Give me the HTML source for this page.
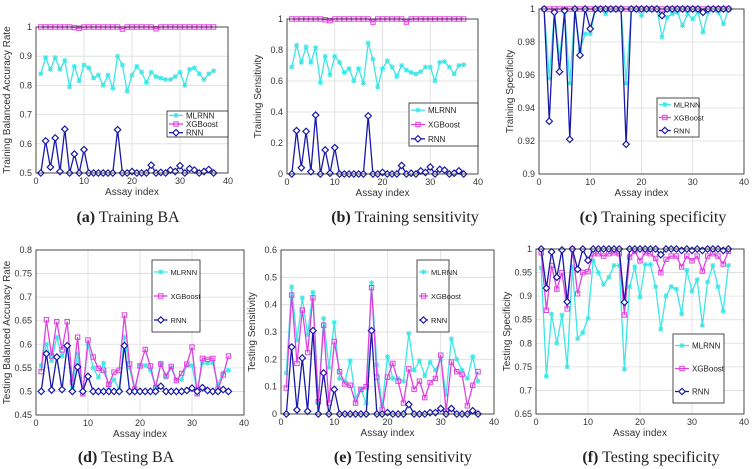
<!DOCTYPE html>
<html><head><meta charset="utf-8"><style>
body{margin:0;background:#fff;width:753px;height:469px;overflow:hidden}
svg{display:block}
text{font-family:"Liberation Sans",sans-serif}
.cap{font-family:"Liberation Serif",serif;font-size:16px;fill:#222}
</style></head><body>
<svg id="fig" width="753" height="469" xmlns="http://www.w3.org/2000/svg"></svg>
<script>
const xTicks=[0,10,20,30,40];
const seriesNames=["MLRNN","XGBoost","RNN"];
// panel a
const aML=[0.84,0.895,0.855,0.895,0.855,0.885,0.795,0.865,0.815,0.87,0.86,0.825,0.835,0.80,0.835,0.79,0.9,0.87,0.78,0.835,0.865,0.845,0.81,0.845,0.83,0.825,0.82,0.82,0.83,0.845,0.80,0.855,0.86,0.84,0.82,0.84,0.85];
const aXG=[1,1,1,1,1,1,1,0.998,0.996,1,1,1,1,1,1,1,1,0.993,1,1,1,1,1,1,0.994,1,1,1,1,1,1,1,1,1,1,1,1];
const aRN=[0.5,0.61,0.52,0.62,0.505,0.65,0.5,0.565,0.5,0.58,0.5,0.5,0.5,0.5,0.5,0.5,0.648,0.5,0.5,0.505,0.5,0.5,0.5,0.527,0.5,0.502,0.5,0.51,0.505,0.525,0.5,0.515,0.51,0.5,0.505,0.512,0.5];
const aTicks=["0.5","0.6","0.7","0.8","0.9","1"];
// panel b
const bML=[0.69,0.83,0.72,0.82,0.72,0.815,0.59,0.76,0.64,0.76,0.72,0.655,0.68,0.6,0.68,0.585,0.845,0.74,0.56,0.68,0.73,0.69,0.63,0.70,0.67,0.655,0.645,0.66,0.69,0.69,0.60,0.72,0.725,0.69,0.645,0.70,0.705];
const bXG=[1,1,1,1,1,1,1,0.995,0.99,1,1,1,1,1,1,1,1,0.98,1,1,1,1,1,1,0.98,1,1,1,1,1,1,1,1,1,1,1,1];
const bRN=[0,0.28,0.04,0.275,0.015,0.38,0,0.155,0.005,0.17,0,0,0,0,0,0,0.375,0,0,0.01,0,0,0,0.055,0,0.005,0,0.02,0.01,0.045,0,0.03,0.025,0,0.005,0.02,0];
const bTicks=["0","0.2","0.4","0.6","0.8","1"];
// panel c
const cML=[1,0.958,0.998,0.97,0.998,0.955,1,0.975,0.985,0.985,1,1,0.997,1,1,1,0.955,1,1,0.996,1,1,1,0.983,0.995,0.997,0.998,0.99,0.997,0.994,0.998,0.986,0.998,1,0.998,0.991,1];
const cXG=[1,1,1,1,1,1,1,1,1,1,1,1,1,1,1,1,1,1,1,1,1,1,1,1,1,1,1,1,1,1,1,1,1,1,1,1,1];
const cRN=[1,0.932,0.998,0.962,0.999,0.921,1,0.972,1,0.988,1,1,1,1,1,1,0.918,1,1,1,1,1,1,0.996,1,1,1,1,1,1,1,0.998,1,1,1,1,1];
const cTicks=["0.9","0.92","0.94","0.96","0.98","1"];
// panel d
const dML=[0.555,0.60,0.565,0.615,0.575,0.595,0.51,0.58,0.50,0.60,0.55,0.53,0.56,0.51,0.525,0.505,0.615,0.55,0.50,0.555,0.555,0.545,0.51,0.56,0.53,0.55,0.525,0.525,0.555,0.555,0.50,0.56,0.56,0.56,0.515,0.54,0.545];
const dXG=[0.542,0.652,0.575,0.648,0.588,0.648,0.52,0.615,0.495,0.609,0.573,0.549,0.545,0.515,0.541,0.545,0.662,0.558,0.505,0.554,0.589,0.554,0.508,0.558,0.533,0.553,0.523,0.538,0.558,0.594,0.495,0.57,0.568,0.57,0.505,0.535,0.575];
const dRN=[0.5,0.58,0.503,0.573,0.504,0.597,0.5,0.552,0.5,0.532,0.5,0.5,0.5,0.5,0.5,0.5,0.597,0.5,0.5,0.5,0.5,0.5,0.5,0.511,0.5,0.5,0.5,0.5,0.502,0.507,0.5,0.508,0.502,0.5,0.5,0.504,0.5];
const dTicks=["0.45","0.5","0.55","0.6","0.65","0.7","0.75","0.8"];
// panel e
const eML=[0.15,0.465,0.27,0.425,0.29,0.445,0.04,0.35,0.17,0.335,0.13,0.12,0.195,0.06,0.09,0.04,0.48,0.18,0.03,0.21,0.13,0.13,0.12,0.295,0.16,0.195,0.14,0.19,0.16,0.2,0.07,0.275,0.2,0.16,0.13,0.21,0.12];
const eXG=[0.095,0.435,0.185,0.38,0.225,0.425,0.045,0.325,0.04,0.265,0.155,0.11,0.105,0.04,0.09,0.1,0.462,0.135,0.015,0.135,0.185,0.12,0.04,0.165,0.09,0.12,0.06,0.115,0.13,0.215,0.01,0.19,0.155,0.145,0.03,0.105,0.155];
const eRN=[0,0.245,0.015,0.205,0.01,0.305,0,0.15,0,0.09,0,0,0,0,0,0,0.305,0,0,0.005,0,0,0,0.035,0,0,0,0.005,0.005,0.02,0,0.02,0,0,0,0.012,0];
const eTicks=["0","0.1","0.2","0.3","0.4","0.5","0.6"];
// panel f
const fML=[0.96,0.73,0.862,0.80,0.86,0.75,0.962,0.81,0.823,0.853,0.975,0.95,0.925,0.94,0.965,0.965,0.745,0.92,0.962,0.898,0.967,0.967,0.92,0.83,0.90,0.92,0.915,0.862,0.955,0.91,0.935,0.838,0.93,0.965,0.92,0.868,0.965];
const fXG=[0.992,0.87,0.965,0.915,0.95,0.873,1,0.905,0.95,0.952,0.99,0.99,0.985,0.99,0.992,0.99,0.86,0.983,0.995,0.975,0.992,0.99,0.98,0.95,0.978,0.985,0.985,0.962,0.985,0.975,0.985,0.953,0.985,0.99,0.985,0.968,0.995];
const fRN=[1,0.917,0.994,0.94,0.998,0.888,1,0.957,1,0.976,1,1,1,1,1,1,0.887,1,1,1,1,1,1,0.988,1,1,1,0.997,1,0.997,1,0.997,1,1,1,0.997,1];
const fTicks=["0.65","0.7","0.75","0.8","0.85","0.9","0.95","1"];

const NS="http://www.w3.org/2000/svg";
const svg=document.getElementById('fig');
const COL=["#3ee6e6","#e040e0","#1a1aa8"];
function mk(tag,attrs,parent){const e=document.createElementNS(NS,tag);for(const k in attrs)e.setAttribute(k,attrs[k]);(parent||svg).appendChild(e);return e;}
function marker(g,type,x,y,c){
  if(type===0){mk('path',{d:`M${x-2.5} ${y}H${x+2.5}M${x} ${y-2.5}V${y+2.5}M${x-2} ${y-2}L${x+2} ${y+2}M${x-2} ${y+2}L${x+2} ${y-2}`,stroke:c,'stroke-width':1,fill:'none'},g);}
  else if(type===1){mk('rect',{x:x-2.2,y:y-2.2,width:4.4,height:4.4,fill:'none',stroke:c,'stroke-width':1},g);}
  else {mk('path',{d:`M${x} ${y-3.2}L${x+3.2} ${y}L${x} ${y+3.2}L${x-3.2} ${y}Z`,fill:'#fff',stroke:c,'stroke-width':1.2},g);}
}
const panels=[
 {id:'a',L:36,R:228,T:27,B:173,y0:0.5,y1:1,ticks:aTicks,data:[aML,aXG,aRN],yl:'Training Balanced Accuracy Rate',cap:['(a)',' Training BA'],cx:128,cy:222,leg:[167,111,61,26]},
 {id:'b',L:287,R:478,T:19,B:174,y0:0,y1:1,ticks:bTicks,data:[bML,bXG,bRN],yl:'Training Sensitivity',cap:['(b)',' Training sensitivity'],cx:405,cy:222,leg:[409,103,69,43]},
 {id:'c',L:539,R:744,T:9,B:174,y0:0.9,y1:1,ticks:cTicks,data:[cML,cXG,cRN],yl:'Training Specificity',cap:['(c)',' Training specificity'],cx:653,cy:222,leg:[657,98,42,39]},
 {id:'d',L:36,R:244,T:250,B:415,y0:0.45,y1:0.8,ticks:dTicks,data:[dML,dXG,dRN],yl:'Testing Balanced Accuracy Rate',cap:['(d)',' Testing BA'],cx:126,cy:462,leg:[152,260,48,72]},
 {id:'e',L:281,R:494,T:250,B:414,y0:0,y1:0.6,ticks:eTicks,data:[eML,eXG,eRN],yl:'Testing Sensitivity',cap:['(e)',' Testing sensitivity'],cx:403,cy:462,leg:[417,260,32,72]},
 {id:'f',L:536,R:744,T:249,B:414,y0:0.65,y1:1,ticks:fTicks,data:[fML,fXG,fRN],yl:'Testing Specificity',cap:['(f)',' Testing specificity'],cx:651,cy:462,leg:[673,334,51,69]}
];
panels.forEach(p=>{
  const g=mk('g',{});
  
  
  const xs=v=>p.L+(v-0)/40*(p.R-p.L);
  const ys=v=>p.B-(v-p.y0)/(p.y1-p.y0)*(p.B-p.T);
  mk('rect',{x:p.L,y:p.T,width:p.R-p.L,height:p.B-p.T,fill:'#fff'},g);
  xTicks.forEach(t=>{const x=xs(t);
    mk('line',{x1:x,x2:x,y1:p.T,y2:p.B,stroke:'#dcdcdc','stroke-width':0.8},g);
    const tx=mk('text',{x:x,y:p.B+11,'font-size':9,'text-anchor':'middle',fill:'#333'},g);tx.textContent=t;
    
    });
  const n=p.ticks.length;
  p.ticks.forEach((t,i)=>{const v=p.y0+i*(p.y1-p.y0)/(n-1);const y=ys(v);
    mk('line',{x1:p.L,x2:p.R,y1:y,y2:y,stroke:'#dcdcdc','stroke-width':0.8},g);
    const tx=mk('text',{x:p.L-4,y:y+3,'font-size':9,'text-anchor':'end',fill:'#333'},g);tx.textContent=t;
    
    });
  p.data.forEach((arr,si)=>{
    const pts=arr.map((v,i)=>xs(i+1).toFixed(1)+','+ys(v).toFixed(1)).join(' ');
    const sg=mk('g',{},g);
    
    
    mk('polyline',{points:pts,fill:'none',stroke:COL[si],'stroke-width':1.3},sg);
    arr.forEach((v,i)=>marker(sg,si,xs(i+1),ys(v),COL[si]));
  });
  mk('rect',{x:p.L,y:p.T,width:p.R-p.L,height:p.B-p.T,fill:'none',stroke:'#222','stroke-width':0.8},g);
  const xl=mk('text',{x:(p.L+p.R)/2,y:p.B+22,'font-size':10,'text-anchor':'middle',fill:'#333'},g);xl.textContent='Assay index';
  
  
  const yx=p.L-26, yy=(p.T+p.B)/2;
  const yl=mk('text',{x:yx,y:yy,'font-size':10,'text-anchor':'middle',fill:'#333',transform:`rotate(-90 ${yx} ${yy})`},g);yl.textContent=p.yl;
  
  
  const [lx,ly,lw,lh]=p.leg;
  const lg=mk('g',{},g);
  
  
  mk('rect',{x:lx,y:ly,width:lw,height:lh,fill:'#fff',stroke:'#222','stroke-width':0.8},lg);
  seriesNames.forEach((nm,si)=>{
    const yy2=ly+lh*(si+0.5)/3;
    const sw=Math.min(14,lw*0.28);
    mk('line',{x1:lx+2,x2:lx+2+sw,y1:yy2,y2:yy2,stroke:COL[si],'stroke-width':1.3},lg);
    marker(lg,si,lx+2+sw/2,yy2,COL[si]);
    const t=mk('text',{x:lx+5+sw,y:yy2+3,'font-size':lw<50?7.5:8,fill:'#222'},lg);t.textContent=nm;
    
    
  });
  const c=mk('text',{x:p.cx,y:p.cy,'text-anchor':'middle',class:'cap'},g);
  
  
  const b=mk('tspan',{'font-weight':'bold'},c);b.textContent=p.cap[0];
  const r=mk('tspan',{},c);r.textContent=p.cap[1];
});
</script>
</body></html>
